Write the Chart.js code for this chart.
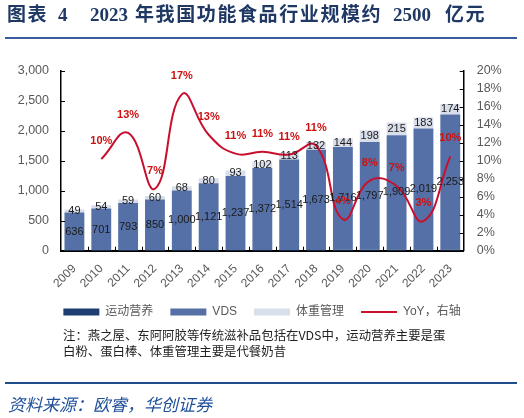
<!DOCTYPE html>
<html><head><meta charset="utf-8">
<script src="https://cdn.jsdelivr.net/npm/chart.js@4.4.0/dist/chart.umd.min.js"></script>
<style>
html,body{margin:0;padding:0;background:#fff;}
body{width:524px;height:418px;position:relative;overflow:hidden;font-family:"Noto Sans CJK SC",sans-serif;}
#c{position:absolute;left:0;top:0;}
.t{position:absolute;top:4px;font-family:"Liberation Serif","Noto Sans CJK SC",serif;font-weight:bold;font-size:19px;color:#1f3864;line-height:22px;white-space:nowrap;}
.cj{letter-spacing:1.6px;}
.hl{position:absolute;left:5px;width:512px;}
.note{position:absolute;left:63px;font-size:12.4px;color:#222;line-height:16px;white-space:nowrap;}
.src{position:absolute;left:8px;top:393px;font-size:17px;font-style:italic;color:#1f4e99;white-space:nowrap;line-height:22px;}
</style></head><body>
<canvas id="c" width="524" height="418"></canvas>
<div class="t" style="left:7px"><span class="cj">图表</span></div>
<div class="t" style="left:58px">4</div>
<div class="t" style="left:90px">2023</div>
<div class="t cj" style="left:135px">年我国功能食品行业规模约</div>
<div class="t" style="left:393px">2500</div>
<div class="t cj" style="left:445px">亿元</div>
<div class="hl" style="top:37px;height:2px;background:#3a5c9c;"></div>
<div class="note" style="top:327px">注：燕之屋、东阿阿胶等传统滋补品包括在VDS中，运动营养主要是蛋</div>
<div class="note" style="top:343px">白粉、蛋白棒、体重管理主要是代餐奶昔</div>
<div class="hl" style="top:382px;height:2px;background:#1f4e8c;"></div>
<div class="src">资料来源：欧睿，华创证券</div>
<script>
const years = ['2009','2010','2011','2012','2013','2014','2015','2016','2017','2018','2019','2020','2021','2022','2023'];
const sports = [2,3,4,5,6,7,8,9,10,12,14,16,18,20,22];
const vds = [636,701,793,850,1000,1121,1237,1372,1514,1673,1716,1797,1909,2019,2253];
const weight = [49,54,59,60,68,80,93,102,113,132,144,198,215,183,174];
const yoy = [null,10.2,13.1,6.9,17.4,12.9,10.8,11.0,10.7,11.7,3.5,7.8,7.2,3.3,10.5];
const yoyText = ['','10%','13%','7%','17%','13%','11%','11%','11%','11%','4%','8%','7%','3%','10%'];
const leftTicks = [0,500,1000,1500,2000,2500,3000];
const rightTicks = [0,2,4,6,8,10,12,14,16,18,20];

const FONT = '"Liberation Sans","Noto Sans CJK SC",sans-serif';

const labelPlugin = {
  id:'lbl',
  afterDatasetsDraw(chart){
    const ctx = chart.ctx;
    const ca = chart.chartArea;
    ctx.save();
    ctx.strokeStyle = '#000'; ctx.lineWidth = 1;
    const ys = chart.scales.y, y1 = chart.scales.y1, xs = chart.scales.x;
    leftTicks.forEach(v=>{ const p = Math.round(ys.getPixelForValue(v))+0.5; ctx.beginPath(); ctx.moveTo(ca.left, p); ctx.lineTo(ca.left+4, p); ctx.stroke(); });
    rightTicks.forEach(v=>{ const p = Math.round(y1.getPixelForValue(v))+0.5; ctx.beginPath(); ctx.moveTo(ca.right, p); ctx.lineTo(ca.right-4, p); ctx.stroke(); });
    for (let i=1;i<years.length;i++){
      const p = Math.round((xs.getPixelForValue(i-1)+xs.getPixelForValue(i))/2)+0.5;
      ctx.beginPath(); ctx.moveTo(p, ca.bottom); ctx.lineTo(p, ca.bottom-4); ctx.stroke();
    }
    ctx.textAlign='center'; ctx.textBaseline='middle';
    [1,2].forEach(di=>{
      const meta = chart.getDatasetMeta(di);
      const data = chart.data.datasets[di].data;
      ctx.font = '11px ' + FONT;
      ctx.fillStyle = '#1a1a1a';
      meta.data.forEach((el,i)=>{
        const p = el.getProps(['x','y','base'], true);
        ctx.fillText(data[i].toLocaleString('en-US'), p.x, (p.y+p.base)/2);
      });
    });
    const lm = chart.getDatasetMeta(3);
    ctx.font = 'bold 11px ' + FONT;
    ctx.fillStyle = '#cc1111';
    lm.data.forEach((el,i)=>{ if (yoy[i]==null) return; ctx.fillText(yoyText[i], el.x, el.y-18); });
    ctx.restore();
  }
};

new Chart(document.getElementById('c'), {
  data: {
    labels: years,
    datasets: [
      {type:'bar', label:'运动营养', data:sports, backgroundColor:'#1f3e70', stack:'s', pointStyle:'rect', borderWidth:0},
      {type:'bar', label:'VDS', data:vds, backgroundColor:'#5570a6', stack:'s', pointStyle:'rect', borderWidth:0},
      {type:'bar', label:'体重管理', data:weight, backgroundColor:'#d9deeb', stack:'s', pointStyle:'rect', borderWidth:0},
      {type:'line', label:'YoY，右轴', data:yoy, yAxisID:'y1', borderColor:'#c8102e', borderWidth:2, tension:0.45,
       pointRadius:0, pointHoverRadius:0, pointStyle:'line', pointBorderWidth:2, pointBorderColor:'#c8102e', pointBackgroundColor:'#c8102e', order:-1, fill:false}
    ]
  },
  options: {
    responsive:false, animation:false,
    layout:{padding:{top:71,left:0,right:0,bottom:90}},
    datasets:{bar:{barPercentage:0.74, categoryPercentage:1}},
    plugins:{
      tooltip:{enabled:false},
      legend:{position:'bottom', labels:{usePointStyle:true, pointStyleWidth:36, boxHeight:7, padding:17,
        font:{size:12, family:FONT}, color:'#595959', sort:(a,b)=>a.datasetIndex-b.datasetIndex}}
    },
    scales:{
      x:{stacked:true, grid:{display:false, drawTicks:false}, border:{display:true, color:'#000', width:2},
         ticks:{minRotation:45, maxRotation:45, padding:11, autoSkip:false, color:'#595959', font:{size:12, family:FONT}},
         afterFit:(s)=>{s.height=38.3;}},
      y:{stacked:true, min:0, max:3000, position:'left', grid:{display:false, drawTicks:false}, border:{display:true, color:'#000', width:1.5},
         ticks:{stepSize:500, autoSkip:false, padding:12, color:'#595959', font:{size:12.5, family:FONT}, callback:(v)=>v.toLocaleString('en-US')},
         afterFit:(s)=>{s.width=61;}},
      y1:{min:0, max:20, position:'right', grid:{display:false, drawTicks:false}, border:{display:true, color:'#000', width:1.5},
         ticks:{stepSize:2, autoSkip:false, padding:13, color:'#595959', font:{size:12.5, family:FONT}, callback:(v)=>v+'%'},
         afterFit:(s)=>{s.width=60.3;}}
    }
  },
  plugins:[labelPlugin]
});
</script>
</body></html>
